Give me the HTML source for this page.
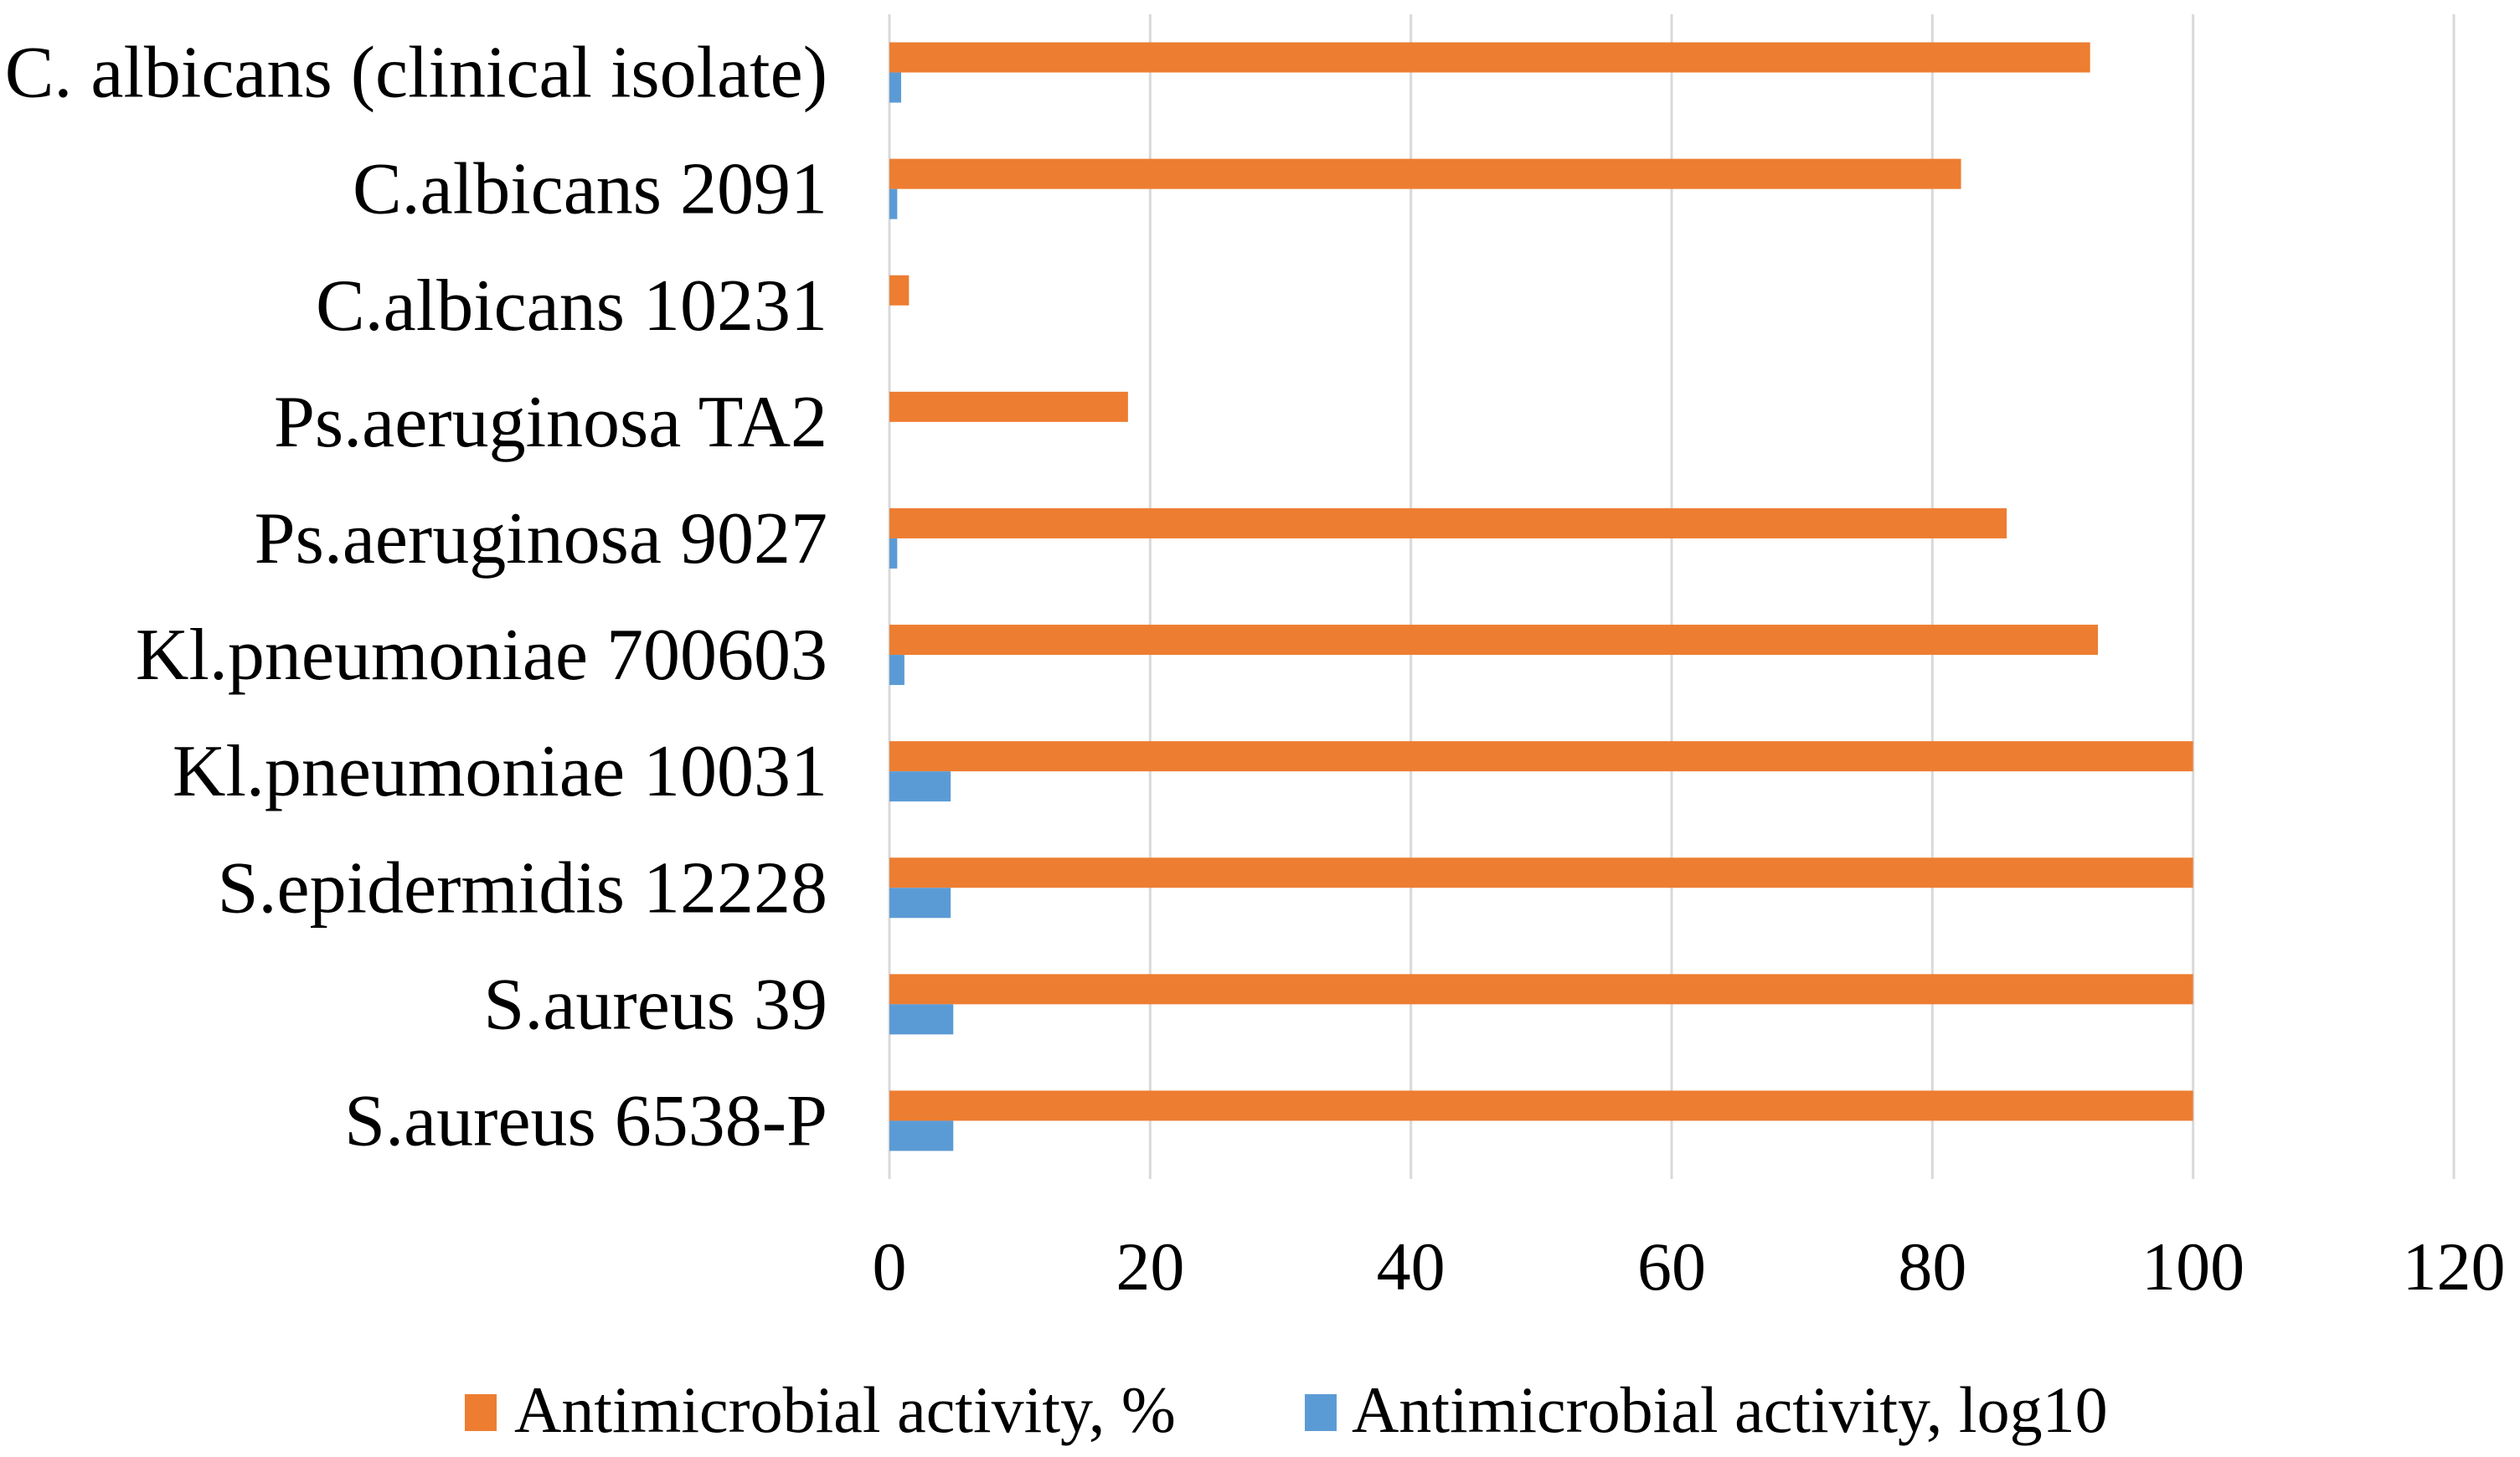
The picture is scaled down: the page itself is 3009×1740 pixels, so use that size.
<!DOCTYPE html>
<html><head><meta charset="utf-8"><style>
html,body{margin:0;padding:0;background:#fff;}
svg{display:block;font-family:"Liberation Serif",serif;}
</style></head><body>
<svg id="chart" width="3009" height="1740" viewBox="0 0 3009 1740" xmlns="http://www.w3.org/2000/svg">
<g id="grid"></g>
<g id="bars"></g>
<g id="ylabels"></g>
<g id="xlabels"></g>
<g>
  <g>
    <rect x="555" y="1665" width="38" height="44" fill="#ED7D31"/>
    <text x="614" y="1710" font-size="78">Antimicrobial activity, %</text>
  </g>
  <g>
    <rect x="1558" y="1665" width="38" height="44" fill="#5B9BD5"/>
    <text x="1614" y="1710" font-size="78">Antimicrobial activity, log10</text>
  </g>
</g>
</svg>
<script>
const categories = ["C. albicans (clinical isolate)","C.albicans 2091","C.albicans 10231","Ps.aeruginosa TA2","Ps.aeruginosa 9027","Kl.pneumoniae 700603","Kl.pneumoniae 10031","S.epidermidis 12228","S.aureus 39","S.aureus 6538-P"];
const percentValues = [92.1, 82.2, 1.5, 18.3, 85.7, 92.7, 100, 100, 100, 100];
const log10Values = [0.9, 0.6, 0, 0, 0.6, 1.15, 4.7, 4.7, 4.9, 4.9];
const xTicks = [0, 20, 40, 60, 80, 100, 120];

const NS = "http://www.w3.org/2000/svg";
const x0 = 1062, x1 = 2930, xMax = 120;
const plotTop = 17, plotBottom = 1408;
const band = (plotBottom - plotTop) / categories.length;
const barH = 36;
function xs(v){ return x0 + (v / xMax) * (x1 - x0); }
function yc(i){ return plotTop + band * (i + 0.5); }
function mk(tag, attrs, parent){ const e=document.createElementNS(NS,tag); for(const k in attrs) e.setAttribute(k,attrs[k]); parent.appendChild(e); return e; }

const grid = document.getElementById('grid');
const xl = document.getElementById('xlabels');
xTicks.forEach(t=>{
  const l = mk('line',{x1:xs(t),x2:xs(t),y1:plotTop,y2:plotBottom,stroke:'#d9d9d9','stroke-width':3},grid);
  
  
  const tx = mk('text',{x:xs(t),y:1540,'font-size':82,'text-anchor':'middle'},xl);
  tx.textContent = t;
  
  
});

const bars = document.getElementById('bars');
const yl = document.getElementById('ylabels');
categories.forEach((c,i)=>{
  const cy = yc(i);
  const r1 = mk('rect',{x:x0,y:cy-barH,width:Math.max(0,xs(percentValues[i])-x0),height:barH,fill:'#ED7D31'},bars);
  
  
  const r2 = mk('rect',{x:x0,y:cy,width:Math.max(0,xs(log10Values[i])-x0),height:barH,fill:'#5B9BD5'},bars);
  
  
  const t = mk('text',{x:988,y:cy+29,'font-size':88,'text-anchor':'end'},yl);
  t.textContent = c;
  
  
});
</script>
</body></html>
